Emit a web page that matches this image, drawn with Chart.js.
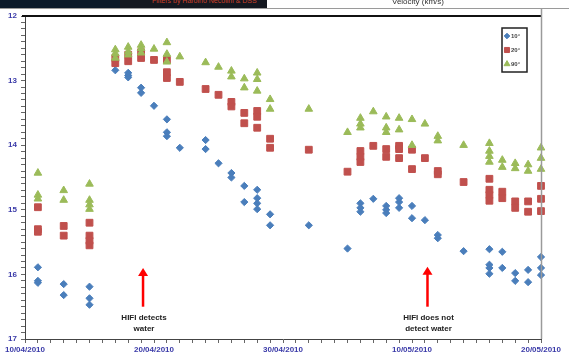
<!DOCTYPE html>
<html>
<head>
<meta charset="utf-8">
<script src="https://cdn.jsdelivr.net/npm/chart.js@4/dist/chart.umd.min.js"></script>
<style>
  html, body { margin:0; padding:0; background:#fff; width:569px; height:354px; overflow:hidden; }
  #wrap { position:relative; width:569px; height:354px; }
  #c { position:absolute; left:0; top:0; }
  .hdr-dark { position:absolute; left:0; top:0; width:267px; height:8px; background:#141820; overflow:hidden; }
  .hdr-dark2 { position:absolute; left:0; top:0; width:120px; height:8px; background:#0c1a2a; }
  .hdr-title { position:absolute; left:152px; top:-3px; font:7px "Liberation Sans", Arial, sans-serif; color:#c8402a; white-space:nowrap; }
  .hdr-vel { position:absolute; left:392px; top:-3px; font:8px "Liberation Sans", Arial, sans-serif; color:#333; white-space:nowrap; }
  .hdr-line { position:absolute; left:0; top:8px; width:569px; height:1px; background:#9a9a9a; }
</style>
</head>
<body>
<div id="wrap">
  <canvas id="c" width="569" height="354"></canvas>
  <div class="hdr-dark"><div class="hdr-dark2"></div><div class="hdr-title">Filters by Harolno Necolini &amp; DSS</div></div>
  <div class="hdr-vel">Velocity (km/s)</div>
  <div class="hdr-line"></div>
</div>
<script>
// ---- data ----
const dateLabels = ["10/04/2010", "20/04/2010", "30/04/2010", "10/05/2010", "20/05/2010"];
const yLabels = ["12", "13", "14", "15", "16", "17"];
const seriesNames = ["10°", "20°", "90°"];
// observation days (days after 10/04/2010)
const obsDays = [1, 3, 5, 7, 8, 9, 10, 11, 12, 14, 15, 16, 17, 18, 19, 22, 25, 26, 27, 28, 29, 30, 31, 32, 34, 36, 37, 38, 39, 40];
const v10 = [
  [15.89, 16.1, 16.13], [16.15, 16.32], [16.19, 16.37, 16.47], [12.84], [12.88, 12.92, 12.95],
  [13.11, 13.19], [13.39], [13.6, 13.8, 13.86], [14.04], [13.92, 14.06],
  [14.28], [14.43, 14.5], [14.63, 14.88], [14.69, 14.82, 14.9, 14.99], [15.07, 15.24],
  [15.24], [15.6], [14.9, 14.97, 15.03], [14.83], [14.94, 15.0, 15.05],
  [14.82, 14.88, 14.97], [14.94, 15.13], [15.16], [15.39, 15.44], [15.64],
  [15.61, 15.85, 15.9, 15.99], [15.65, 15.9], [15.98, 16.1], [15.93, 16.12], [15.73, 15.9, 16.01]
];
const v20 = [
  [14.96, 15.3, 15.34], [15.25, 15.4], [15.2, 15.4, 15.48, 15.55], [12.65, 12.73], [12.6, 12.7],
  [12.56, 12.65], [12.68], [12.68, 12.87, 12.96], [13.02], [13.13],
  [13.22], [13.33, 13.4], [13.5, 13.66], [13.47, 13.56, 13.73], [13.9, 14.04],
  [14.07], [14.41], [14.09, 14.18, 14.26], [14.01], [14.06, 14.18],
  [14.01, 14.06, 14.2], [14.07, 14.37], [14.2], [14.4, 14.45], [14.57],
  [14.52, 14.69, 14.77, 14.86], [14.72, 14.82], [14.87, 14.97], [14.87, 15.03], [14.63, 14.83, 15.02]
];
const v90 = [
  [14.43, 14.77, 14.83], [14.7, 14.85], [14.6, 14.85, 14.92, 14.99], [12.52, 12.58, 12.65], [12.48, 12.55, 12.6],
  [12.45, 12.5, 12.57], [12.51], [12.41, 12.59, 12.71], [12.63], [12.72],
  [12.79], [12.85, 12.94], [12.97, 13.11], [12.88, 12.98, 13.16], [13.29, 13.44],
  [13.44], [13.8], [13.58, 13.67, 13.73], [13.48], [13.56, 13.73, 13.8],
  [13.58, 13.76], [13.6, 14.0], [13.67], [13.86, 13.93], [14.0],
  [13.97, 14.09, 14.17, 14.26], [14.23, 14.34], [14.28, 14.36], [14.3, 14.4], [14.04, 14.2, 14.37]
];
// annotations (day, tip value, tail value, text lines)
const notes = [
  { day: 9.15, tip: 15.9, tail: 16.5, lines: ["HIFI detects", "water"] },
  { day: 31.2, tip: 15.88, tail: 16.5, lines: ["HIFI does not", "detect water"] }
];

function toPoints(cols) {
  const pts = [];
  cols.forEach((vals, i) => vals.forEach(v => pts.push({ x: obsDays[i], y: v })));
  return pts;
}

const COL_BLUE = '#4a7ebb', COL_RED = '#c0504d', COL_GREEN = '#9bbb59';
const TICK_COL = '#3a3aa8';

const frame = {
  id: 'frame',
  afterDraw(chart) {
    const ctx = chart.ctx, a = chart.chartArea;
    const xs = chart.scales.x, ys = chart.scales.y;
    ctx.save();
    // top border
    ctx.strokeStyle = '#111'; ctx.lineWidth = 2;
    ctx.beginPath(); ctx.moveTo(a.left - 3, a.top); ctx.lineTo(a.right, a.top); ctx.stroke();
    // right border
    ctx.strokeStyle = '#9a9a9a'; ctx.lineWidth = 1.5;
    ctx.beginPath(); ctx.moveTo(a.right + 0.5, 9); ctx.lineTo(a.right + 0.5, a.bottom); ctx.stroke();

    // legend
    const lx = 502, ly = 28, lw = 25, lh = 44;
    ctx.fillStyle = '#fff'; ctx.fillRect(lx, ly, lw, lh);
    ctx.strokeStyle = '#222'; ctx.lineWidth = 1.5; ctx.strokeRect(lx, ly, lw, lh);
    const styles = [['rectRot', COL_BLUE, 2.8], ['rect', COL_RED, 3.6], ['triangle', COL_GREEN, 3.4]];
    chart.data.datasets.forEach((ds, i) => {
      const yy = ly + 8 + i * 14;
      ctx.fillStyle = styles[i][1]; ctx.strokeStyle = styles[i][1]; ctx.lineWidth = 1;
      Chart.helpers.drawPoint(ctx, { pointStyle: styles[i][0], radius: styles[i][2], borderWidth: 1 }, lx + 5, yy);
      ctx.fillStyle = '#444';
      ctx.font = 'bold 6px "Liberation Sans", Arial, sans-serif';
      ctx.textAlign = 'left'; ctx.textBaseline = 'middle';
      ctx.fillText(ds.label, lx + 9, yy + 0.5);
    });

    // annotations
    notes.forEach(n => {
      const x = xs.getPixelForValue(n.day);
      const yTip = ys.getPixelForValue(n.tip), yTail = ys.getPixelForValue(n.tail);
      ctx.strokeStyle = '#ff0000'; ctx.fillStyle = '#ff0000'; ctx.lineWidth = 2.5;
      ctx.beginPath(); ctx.moveTo(x, yTail); ctx.lineTo(x, yTip + 6); ctx.stroke();
      ctx.beginPath(); ctx.moveTo(x, yTip); ctx.lineTo(x - 5, yTip + 8); ctx.lineTo(x + 5, yTip + 8); ctx.closePath(); ctx.fill();
      ctx.fillStyle = '#222';
      ctx.font = 'bold 8px "Liberation Sans", Arial, sans-serif';
      ctx.textAlign = 'center'; ctx.textBaseline = 'middle';
      n.lines.forEach((t, k) => ctx.fillText(t, x + 1, yTail + 11 + k * 11.5));
    });
    ctx.restore();
  }
};

new Chart(document.getElementById('c'), {
  type: 'scatter',
  data: {
    datasets: [
      { label: seriesNames[0], data: toPoints(v10), pointStyle: 'rectRot', pointRadius: 3.6, pointHoverRadius: 3.6,
        backgroundColor: COL_BLUE, borderColor: COL_BLUE, borderWidth: 1, order: 3, clip: false },
      { label: seriesNames[1], data: toPoints(v20), pointStyle: 'rect', pointRadius: 4.8, pointHoverRadius: 4.8,
        backgroundColor: COL_RED, borderColor: COL_RED, borderWidth: 1, order: 2, clip: false },
      { label: seriesNames[2], data: toPoints(v90), pointStyle: 'triangle', pointRadius: 4.4, pointHoverRadius: 4.4,
        backgroundColor: COL_GREEN, borderColor: COL_GREEN, borderWidth: 1, order: 1, clip: false }
    ]
  },
  options: {
    responsive: false,
    animation: false,
    devicePixelRatio: 1,
    layout: { padding: { top: 16, right: 28, left: 0, bottom: 0 } },
    plugins: { legend: { display: false }, tooltip: { enabled: false } },
    scales: {
      x: {
        type: 'linear', min: 0, max: 40,
        afterFit: s => { s.height = 15; },
        ticks: {
          stepSize: 1, autoSkip: false, maxRotation: 0, minRotation: 0, padding: 2,
          color: TICK_COL, font: { family: '"Liberation Sans", Arial, sans-serif', size: 8, weight: 'bold' },
          callback: v => (Math.abs(v % 10) < 1e-6 ? dateLabels[Math.round(v / 10)] : '')
        },
        grid: { drawOnChartArea: false, tickLength: 4, color: '#666' },
        border: { color: '#444', width: 1 }
      },
      y: {
        type: 'linear', reverse: true, min: 12, max: 17,
        afterFit: s => { s.width = 25; },
        ticks: {
          stepSize: 0.1, autoSkip: false, padding: 4,
          color: TICK_COL, font: { family: '"Liberation Sans", Arial, sans-serif', size: 8, weight: 'bold' },
          callback: v => { const r = Math.round(v); return Math.abs(v - r) < 1e-6 ? yLabels[r - 12] : ''; }
        },
        grid: { drawOnChartArea: false, tickLength: 4, color: '#666' },
        border: { color: '#444', width: 1 }
      }
    }
  },
  plugins: [frame]
});
</script>
</body>
</html>
